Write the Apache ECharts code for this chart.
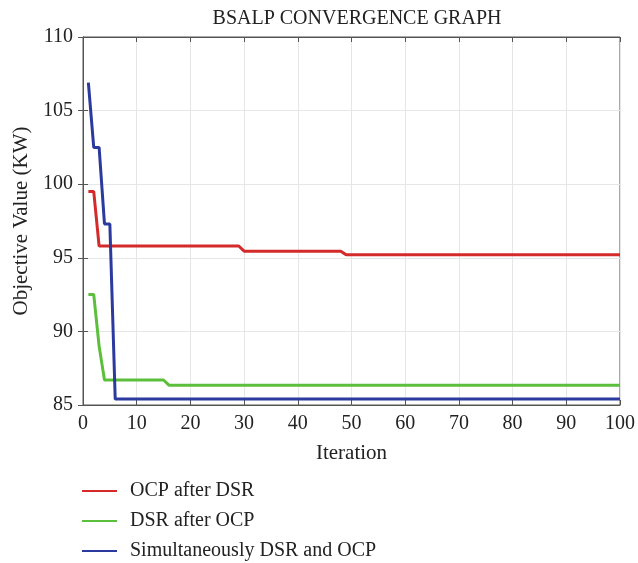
<!DOCTYPE html>
<html>
<head>
<meta charset="utf-8">
<script src="https://cdn.jsdelivr.net/npm/echarts@6/dist/echarts.min.js"></script>
<style>
html, body { margin: 0; padding: 0; background: #fff; }
#chart { width: 638px; height: 563px; }
</style>
</head>
<body>
<div id="chart"></div>
<script>
// breakpoints of each convergence curve (iteration, objective value)
var ocpIter = [1, 2, 3, 29, 30, 48, 49, 100];
var ocpVal  = [99.5, 99.5, 95.8, 95.8, 95.45, 95.45, 95.2, 95.2];
var dsrIter = [1, 2, 3, 4, 15, 16, 100];
var dsrVal  = [92.5, 92.5, 89.0, 86.7, 86.7, 86.35, 86.35];
var simIter = [1, 2, 3, 4, 5, 6, 100];
var simVal  = [106.9, 102.5, 102.5, 97.3, 97.3, 85.4, 85.4];

var xTicks = [0, 100, 10];
var yTicks = [85, 110, 5];

function pairs(xs, ys) {
  return xs.map(function (x, i) { return [x, ys[i]]; });
}

var serif = 'Liberation Serif';
var myChart = echarts.init(document.getElementById('chart'));
var option = {
  animation: false,
  backgroundColor: '#fff',
  title: {
    text: 'BSALP CONVERGENCE GRAPH',
    left: 352,
    top: 4,
    textAlign: 'center',
    textStyle: { fontFamily: serif, fontSize: 20, fontWeight: 'normal', color: '#222' }
  },
  grid: {
    left: 83, right: 15, top: 37, bottom: 158,
    show: true, borderColor: '#555', borderWidth: 1
  },
  legend: {
    orient: 'vertical',
    left: 82,
    top: 479,
    height: 84,
    padding: 0,
    itemWidth: 35,
    itemHeight: 14,
    itemGap: 6,
    icon: 'path://M0,6 L35,6 L35,8 L0,8 Z',
    textStyle: { fontFamily: serif, fontSize: 20, lineHeight: 24, color: '#222', padding: [0, 0, 0, 8] },
    data: ['OCP after DSR', 'DSR after OCP', 'Simultaneously DSR and OCP']
  },
  xAxis: [{
    type: 'value',
    min: xTicks[0], max: xTicks[1], interval: xTicks[2],
    name: 'Iteration',
    nameLocation: 'middle',
    nameGap: 38,
    nameTextStyle: { fontFamily: serif, fontSize: 21, color: '#222' },
    axisLine: { show: true, lineStyle: { color: '#555' } },
    axisTick: { inside: true, length: 5, lineStyle: { color: '#555' } },
    axisLabel: { fontFamily: serif, fontSize: 20, color: '#222', margin: 9 },
    splitLine: { show: true, lineStyle: { color: '#e6e6e6' } }
  }, {
    type: 'value', position: 'top',
    min: xTicks[0], max: xTicks[1], interval: xTicks[2],
    axisLine: { show: true, lineStyle: { color: '#555' } },
    axisTick: { inside: true, length: 5, lineStyle: { color: '#555' } },
    axisLabel: { show: false },
    splitLine: { show: false }
  }],
  yAxis: [{
    type: 'value',
    min: yTicks[0], max: yTicks[1], interval: yTicks[2],
    name: 'Objective Value (KW)',
    nameLocation: 'middle',
    nameGap: 48,
    nameTextStyle: { fontFamily: serif, fontSize: 21, color: '#222' },
    axisLine: { show: true, lineStyle: { color: '#555' } },
    axisTick: { inside: true, length: 5, lineStyle: { color: '#555' } },
    axisLabel: { fontFamily: serif, fontSize: 20, color: '#222', margin: 10 },
    splitLine: { show: true, lineStyle: { color: '#e6e6e6' } }
  }, {
    type: 'value', position: 'right',
    min: yTicks[0], max: yTicks[1], interval: yTicks[2],
    axisLine: { show: true, lineStyle: { color: '#555' } },
    axisTick: { inside: true, length: 5, lineStyle: { color: '#555' } },
    axisLabel: { show: false },
    splitLine: { show: false }
  }],
  series: [{
    name: 'OCP after DSR',
    type: 'line',
    data: pairs(ocpIter, ocpVal),
    symbol: 'none',
    color: '#d42a2a',
    lineStyle: { width: 3 }
  }, {
    name: 'DSR after OCP',
    type: 'line',
    data: pairs(dsrIter, dsrVal),
    symbol: 'none',
    color: '#5cbf3c',
    lineStyle: { width: 3 }
  }, {
    name: 'Simultaneously DSR and OCP',
    type: 'line',
    data: pairs(simIter, simVal),
    symbol: 'none',
    color: '#2b3a9e',
    lineStyle: { width: 3 }
  }]
};
myChart.setOption(option);
</script>
</body>
</html>
